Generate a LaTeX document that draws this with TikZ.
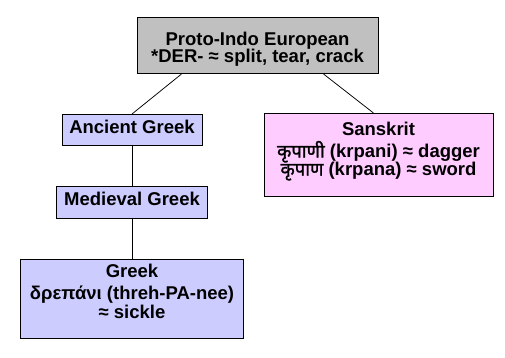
\documentclass[tikz,border=0pt]{standalone}
\usepackage{fontspec}
\setmainfont{Liberation Sans}
\newfontfamily\devafont[Script=Devanagari, AutoFakeBold=1.5]{Noto Sans}
\usetikzlibrary{positioning}
\definecolor{pieGray}{HTML}{C0C0C0}
\definecolor{greekBlue}{HTML}{CCCCFF}
\definecolor{sktPink}{HTML}{FFCCFF}
\newcommand{\hstrut}[1]{\rule{0pt}{#1}}
\newcommand{\dstrut}[1]{\rule[-#1]{0pt}{#1}}
\newcommand{\boxfont}{\fontsize{18.5}{18}\selectfont\bfseries\lineskiplimit-50pt\relax}
\tikzset{
  langbox/.style={rectangle, draw=black, line width=1pt, align=center,
                  inner xsep=0pt, inner ysep=0pt, anchor=north, font=\boxfont},
  boxGray/.style={langbox, fill=pieGray},
  boxBlue/.style={langbox, fill=greekBlue},
  boxPink/.style={langbox, fill=sktPink},
  link/.style={draw=black, line width=0.75pt},
}
\begin{document}
\begin{tikzpicture}[x=1pt, y=-1pt, node distance=40pt]
    \useasboundingbox[fill=white] (0,0) rectangle (505,357);
    \node[boxGray, minimum width=241pt] (pie) at (257.5,17)
          {\hstrut{28pt}Proto-Indo European\\[-1pt]*DER- ≈ split, tear, crack\dstrut{11pt}};
    \node[boxBlue, minimum width=140pt] (ancient) at (132,114)
          {\hstrut{19.3pt}Ancient Greek\dstrut{11.7pt}};
    \node[boxBlue, minimum width=151pt, below=of ancient] (medieval)
          {\hstrut{19pt}Medieval Greek\dstrut{13pt}};
    \node[boxBlue, minimum width=223pt, below=of medieval] (greek)
          {\hstrut{18pt}Greek\\[4pt]δρεπάνι (threh-PA-nee)\\[1pt]≈ sickle\dstrut{20pt}};
    \node[boxPink, minimum width=229pt] (skt) at (378.5,113)
          {\hstrut{22pt}Sanskrit\\[4pt]{\devafont कृपाणी} (krpani) ≈ dagger\\
           {\devafont कृपाण} (krpana) ≈ sword\dstrut{21pt}};
    \draw[link] ([xshift=45pt]pie.south west) -- (ancient.north);
    \draw[link] ([xshift=-55pt]pie.south east) -- ([xshift=-5pt]skt.north);
    \draw[link] (ancient) -- (medieval);
    \draw[link] (medieval) -- (greek);
\end{tikzpicture}
\end{document}
